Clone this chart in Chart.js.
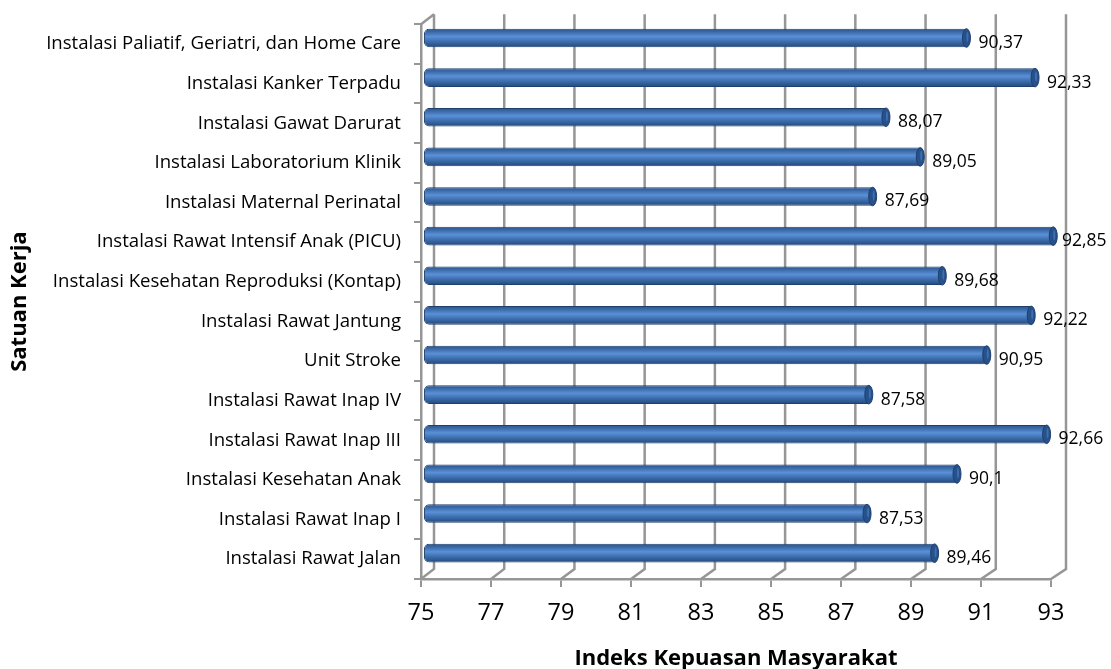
<!DOCTYPE html>
<html>
<head>
<meta charset="utf-8">
<style>
  html, body { margin: 0; padding: 0; background: #fff; }
  canvas { display: block; }
</style>
<script src="https://cdn.jsdelivr.net/npm/chart.js@4"></script>
</head>
<body>
<canvas id="chart" width="1111" height="669"></canvas>
<script>
const categories = [
    'Instalasi Paliatif, Geriatri, dan Home Care',
    'Instalasi Kanker Terpadu',
    'Instalasi Gawat Darurat',
    'Instalasi Laboratorium Klinik',
    'Instalasi Maternal Perinatal',
    'Instalasi Rawat Intensif Anak (PICU)',
    'Instalasi Kesehatan Reproduksi (Kontap)',
    'Instalasi Rawat Jantung',
    'Unit Stroke',
    'Instalasi Rawat Inap IV',
    'Instalasi Rawat Inap III',
    'Instalasi Kesehatan Anak',
    'Instalasi Rawat Inap I',
    'Instalasi Rawat Jalan'
];
const values = [90.37, 92.33, 88.07, 89.05, 87.69, 92.85, 89.68, 92.22, 90.95, 87.58, 92.66, 90.1, 87.53, 89.46];
const axisMin = 75;
const axisMax = 93;
const axisStep = 2;

const FONT = '"Open Sans", sans-serif';
const AXIS_GRAY = '#969696';
// depth of the fake 3D box
const BAR_SHIFT_X = 7.5;
const BAR_SHIFT_Y = -6;
const MAX_LABEL_X = 1062;

function barGradient(context) {
    const chart = context.chart;
    if (!chart.chartArea) return '#4f81bd';
    const yc = chart.scales.y.getPixelForValue(context.dataIndex);
    const g = chart.ctx.createLinearGradient(0, yc - 9, 0, yc + 9);
    g.addColorStop(0, '#2b568f');
    g.addColorStop(0.18, '#3c6cab');
    g.addColorStop(0.42, '#5a90d6');
    g.addColorStop(0.7, '#3c6dad');
    g.addColorStop(1, '#254a7c');
    return g;
}

// Back wall, slanted floor lines
const boxPlugin = {
    id: 'box',
    beforeDatasetsDraw(chart) {
        const { ctx, scales: { x }, chartArea: a } = chart;
        ctx.save();
        ctx.strokeStyle = AXIS_GRAY;
        ctx.lineWidth = 2.5;
        x.ticks.forEach(t => {
            const px = x.getPixelForValue(t.value);
            const dx = 13 + 2 * (px - a.left) / (a.right - a.left);
            ctx.beginPath();
            ctx.moveTo(px, a.bottom);
            ctx.lineTo(px + dx, a.bottom - 10);
            ctx.lineTo(px + dx, a.top - 10);
            ctx.stroke();
        });
        ctx.beginPath();
        ctx.moveTo(a.left, a.top);
        ctx.lineTo(a.left + 13, a.top - 10);
        ctx.stroke();
        ctx.restore();
    },
    beforeDatasetDraw(chart) {
        chart.ctx.save();
        chart.ctx.translate(BAR_SHIFT_X, BAR_SHIFT_Y);
    },
    afterDatasetDraw(chart, args) {
        const ctx = chart.ctx;
        // cylinder end caps
        args.meta.data.forEach(bar => {
            ctx.beginPath();
            ctx.ellipse(bar.x, bar.y, 4, 9.3, 0, 0, Math.PI * 2);
            ctx.fillStyle = '#26518a';
            ctx.fill();
            ctx.strokeStyle = '#1f3f6e';
            ctx.lineWidth = 1;
            ctx.stroke();
            ctx.beginPath();
            ctx.ellipse(bar.x + 1, bar.y - 1, 1, 5, 0, 0, Math.PI * 2);
            ctx.fillStyle = '#3f6fae';
            ctx.fill();
        });
        ctx.restore();
    },
    afterDatasetsDraw(chart) {
        const { ctx } = chart;
        const meta = chart.getDatasetMeta(0);
        ctx.save();
        ctx.font = '17.5px ' + FONT;
        ctx.fillStyle = '#000';
        ctx.textAlign = 'left';
        ctx.textBaseline = 'middle';
        meta.data.forEach((bar, i) => {
            const label = String(values[i]).replace('.', ',');
            ctx.fillText(label, Math.min(bar.x + 19.5, MAX_LABEL_X), bar.y - 1);
        });
        ctx.restore();
    }
};

new Chart(document.getElementById('chart'), {
    type: 'bar',
    data: {
        labels: categories,
        datasets: [{
            data: values,
            base: 74.87,
            clip: false,
            backgroundColor: barGradient,
            borderColor: '#1f3f6e',
            borderWidth: 1,
            borderSkipped: false,
            borderRadius: { topLeft: 5, bottomLeft: 5, topRight: 0, bottomRight: 0 },
            barPercentage: 0.47,
            categoryPercentage: 1
        }]
    },
    options: {
        indexAxis: 'y',
        responsive: false,
        animation: false,
        layout: { padding: { top: 23, right: 60, bottom: 0, left: 0 } },
        plugins: { legend: { display: false }, tooltip: { enabled: false } },
        scales: {
            x: {
                type: 'linear',
                min: axisMin,
                max: axisMax,
                afterFit(scale) { scale.height = 90; },
                ticks: {
                    stepSize: axisStep,
                    color: '#000',
                    padding: 12,
                    font: { family: FONT, size: 23.5 }
                },
                grid: { drawOnChartArea: false, drawTicks: true, tickLength: 8, color: AXIS_GRAY, lineWidth: 2 },
                border: { color: AXIS_GRAY, width: 2.5 },
                title: {
                    display: true,
                    text: 'Indeks Kepuasan Masyarakat',
                    color: '#000',
                    font: { family: FONT, size: 22, weight: 'bold' },
                    padding: { top: 0, bottom: -3 }
                }
            },
            y: {
                type: 'category',
                afterFit(scale) { scale.width = 421; },
                ticks: {
                    color: '#000',
                    padding: 13,
                    autoSkip: false,
                    font: { family: FONT, size: 18.6 }
                },
                grid: { drawOnChartArea: false, drawTicks: true, tickLength: 7, color: AXIS_GRAY, lineWidth: 2 },
                border: { color: AXIS_GRAY, width: 2.5 },
                title: {
                    display: true,
                    text: 'Satuan Kerja',
                    color: '#000',
                    font: { family: FONT, size: 22, weight: 'bold' },
                    padding: { top: 7, bottom: 0 }
                }
            }
        }
    },
    plugins: [boxPlugin]
});
</script>
</body>
</html>
